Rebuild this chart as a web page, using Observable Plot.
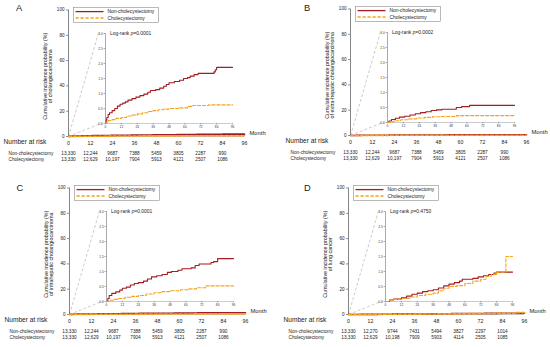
<!DOCTYPE html>
<html><head><meta charset="utf-8">
<script src="https://cdn.jsdelivr.net/npm/d3@7"></script>
<script src="https://cdn.jsdelivr.net/npm/@observablehq/plot@0.6"></script>
<style>
body{margin:0;background:#fff;font-family:"Liberation Sans",Arial,sans-serif;color:#222}
#root{position:relative;width:550px;height:347px;overflow:hidden;background:#fff}
.panel{position:absolute;width:275px;height:175px}
.panel svg{position:absolute;overflow:visible}
.letter{position:absolute;font-size:9.3px;line-height:1}
.logrank{position:absolute;font-size:4.9px;line-height:5px;white-space:nowrap}
</style></head><body><div id="root"></div>
<script>
// ---------- data ----------
const months = [0,12,24,36,48,60,72,84,96];
const riskMonths = [0,12,24,36,48,60,72,84];
const yTicksMain = [0,20,40,60,80,100];
const yTicksInset = [0,0.5,1,1.5,2,2.5,3];
const groups = ["Non-cholecystectomy","Cholecystectomy"];
const letters = ["A","B","C","D"];
const outcomes = ["of cholangiocarcinoma","of extra-hepatic cholangiocarcinoma","of intrahepatic cholangiocarcinoma","of lung cancer"];
const pvals = ["0.0001","0.0002","0.0001","0.4750"];

const aNonM = [0,0.5,1,2,3,5,7,9,11,13,15,17,20,23,26,29,32,34,38,41,44,46,48,52,56,59,62,64,67,70,82,83,84,96];
const aNonV = [0,0.12,0.2,0.3,0.36,0.43,0.5,0.58,0.64,0.68,0.72,0.78,0.83,0.88,0.93,0.98,1.04,1.1,1.13,1.18,1.24,1.3,1.36,1.4,1.44,1.5,1.53,1.58,1.63,1.67,1.72,1.79,1.87,1.87];
const aChoM = [0,1,2,5,8,12,16,20,24,28,32,36,40,44,48,55,62,66,78,96];
const aChoV = [0,0.05,0.1,0.13,0.17,0.2,0.25,0.28,0.32,0.36,0.4,0.43,0.46,0.48,0.5,0.52,0.57,0.6,0.62,0.62];
const bNonM = [0,1,3,6,9,13,17,21,25,29,33,37,41,52,56,62,96];
const bNonV = [0,0.05,0.1,0.14,0.18,0.21,0.25,0.29,0.33,0.36,0.4,0.42,0.44,0.5,0.53,0.57,0.57];
const bChoM = [0,2,5,10,16,22,28,34,40,52,96];
const bChoV = [0,0.03,0.06,0.09,0.12,0.15,0.17,0.19,0.2,0.23,0.23];
const cNonM = [0,1,2,4,7,10,12,15,18,21,24,28,31,34,38,42,46,49,54,57,64,67,70,79,81,84,96];
const cNonV = [0,0.1,0.2,0.27,0.32,0.38,0.44,0.48,0.55,0.6,0.63,0.68,0.75,0.82,0.86,0.9,0.97,1.0,1.04,1.09,1.12,1.2,1.25,1.3,1.33,1.43,1.43];
const cChoM = [0,2,5,9,14,19,24,30,36,42,48,56,62,68,75,96];
const cChoV = [0,0.04,0.07,0.1,0.14,0.17,0.2,0.25,0.29,0.33,0.36,0.39,0.42,0.46,0.52,0.52];
const dNonM = [0,3,6,12,16,20,24,28,32,36,40,44,48,52,56,58,66,70,74,78,82,84,96];
const dNonV = [0,0.05,0.08,0.12,0.18,0.24,0.28,0.33,0.36,0.39,0.45,0.52,0.58,0.63,0.68,0.74,0.77,0.82,0.86,0.9,0.95,0.98,0.98];
const dChoM = [0,3,6,12,18,24,30,36,40,44,48,54,60,66,72,76,80,84,91,96];
const dChoV = [0,0.04,0.07,0.1,0.15,0.2,0.24,0.28,0.36,0.44,0.5,0.53,0.6,0.68,0.74,0.84,0.9,0.98,1.5,1.5];

const riskABCNon = ["13,330","12,244","9687","7388","5459","3805","2287","990"];
const riskABCCho = ["13,330","12,629","10,197","7904","5913","4121","2507","1086"];
const riskDNon = ["13,330","12,270","9744","7431","5494","3827","2297","1014"];
const riskDCho = ["13,330","12,629","10,198","7909","5903","4114","2505","1085"];

// ---------- layout / style ----------
const FONT = '"Liberation Sans", Arial, sans-serif';
const RED = "#a11d22", ORANGE = "#f7a21c";
const panelPos = [[0,0],[282,-1],[1,178],[280,178]];
const letterPos = [[16,4],[304,4],[16.5,184],[304,184]];
const M = {w:275, h:150, ml:68, mr:31, mt:9.5, mb:14};
const I = {left:92.5, top:28.5, w:149, h:102, ml:12, mr:10, mt:4, mb:8};

const seriesList = [
  [[aNonM,aNonV],[aChoM,aChoV],riskABCNon,riskABCCho],
  [[bNonM,bNonV],[bChoM,bChoV],riskABCNon,riskABCCho],
  [[cNonM,cNonV],[cChoM,cChoV],riskABCNon,riskABCCho],
  [[dNonM,dNonV],[dChoM,dChoV],riskDNon,riskDCho]
];
const toRows = ([ms,vs]) => ms.map((m,i)=>({m, v: vs[i]}));

const root = document.getElementById("root");

seriesList.forEach((s, k) => {
  const non = toRows(s[0]), cho = toRows(s[1]);
  const panel = document.createElement("div");
  panel.className = "panel";
  panel.style.left = panelPos[k][0] + "px";
  panel.style.top = panelPos[k][1] + "px";
  root.appendChild(panel);

  const lines = (sw) => [
    Plot.line(non, {x:"m", y:"v", curve:"step-after", stroke:RED, strokeWidth:sw}),
    Plot.line(cho, {x:"m", y:"v", curve:"step-after", stroke:ORANGE, strokeWidth:sw, strokeDasharray:"3.2,1.8"})
  ];

  // inset
  const inset = Plot.plot({
    width:I.w, height:I.h, marginLeft:I.ml, marginRight:I.mr, marginTop:I.mt, marginBottom:I.mb,
    style:{fontFamily:FONT, fontSize:"3.2px", background:"transparent", color:"#333", overflow:"visible"},
    x:{domain:[0,96]}, y:{domain:[0,3]},
    marks:[
      Plot.ruleY([0], {stroke:"#9a9a9a", strokeWidth:0.5}),
      Plot.ruleX([0], {stroke:"#555", strokeWidth:0.5}),
      Plot.axisY({ticks:yTicksInset, tickFormat:".1f", tickSize:1.5, tickPadding:1.2, fontSize:3.2, label:null, strokeWidth:0.4}),
      Plot.axisX({ticks:months, tickSize:1.5, tickPadding:1.2, fontSize:3.2, label:null, strokeWidth:0.4}),
      ...lines(1.1)
    ]
  });
  const isx = inset.scale("x"), isy = inset.scale("y");
  const axisPx = I.left + isx.apply(0);
  const topPx = I.top + isy.apply(3);
  const botPx = I.top + isy.apply(0);

  const mx = Plot.scale({x:{domain:[0,96], range:[M.ml, M.w - M.mr]}});
  const my = Plot.scale({y:{domain:[0,100], range:[M.h - M.mb, M.mt]}});
  const connectors = [
    {x2: mx.invert(axisPx - 6.5), y2: my.invert(topPx)},
    {x2: mx.invert(axisPx - 3), y2: my.invert(botPx)}
  ];

  const main = Plot.plot({
    width:M.w, height:M.h, marginLeft:M.ml, marginRight:M.mr, marginTop:M.mt, marginBottom:M.mb,
    style:{fontFamily:FONT, fontSize:"5px", background:"transparent", color:"#222", overflow:"visible"},
    x:{domain:[0,96]}, y:{domain:[0,100]},
    marks:[
      Plot.link(connectors, {x1:0, y1:0, x2:"x2", y2:"y2", stroke:"#a8a8a8", strokeWidth:0.6, strokeDasharray:"3,2"}),
      Plot.ruleY([0], {stroke:"#999", strokeWidth:0.6}),
      Plot.ruleX([0], {stroke:"#333", strokeWidth:0.6}),
      Plot.axisY({ticks:yTicksMain, tickSize:2, tickPadding:2, fontSize:4.6, label:null, strokeWidth:0.5}),
      Plot.axisX({ticks:months, tickSize:0, tickPadding:5, fontSize:5.2, label:null}),
      ...lines(1.6),
      Plot.text(["Cumulative incidence probability (%)\n" + outcomes[k]], {frameAnchor:"left", rotate:-90, dx:-20.5, dy:3, fontSize:5.4, lineHeight:1, textAnchor:"middle"}),
      Plot.text(["Month"], {frameAnchor:"bottom-right", dx:5, dy:-1.5, textAnchor:"start", fontSize:5.8}),
      Plot.text(["Number at risk"], {frameAnchor:"bottom-left", dx:-65, dy:7.3, textAnchor:"start", fontSize:6.6})
    ]
  });
  main.style.left = "0px"; main.style.top = "0px";
  panel.appendChild(main);

  inset.style.left = I.left + "px"; inset.style.top = I.top + "px";
  panel.appendChild(inset);

  // number at risk table
  const tableRows = [];
  riskMonths.forEach((m,i) => {
    tableRows.push({m, g:groups[0], n:s[2][i]});
    tableRows.push({m, g:groups[1], n:s[3][i]});
  });
  const table = Plot.plot({
    width:M.w, height:20, marginLeft:M.ml, marginRight:M.mr, marginTop:0, marginBottom:0,
    style:{fontFamily:FONT, background:"transparent", color:"#222", overflow:"visible"},
    x:{domain:[0,96], axis:null},
    y:{type:"point", domain:groups, range:[6.3,12.8], padding:0, axis:null},
    marks:[
      Plot.text(tableRows, {x:"m", y:"g", text:"n", fontSize:4.7}),
      Plot.text(groups, {y:d=>d, text:d=>d, frameAnchor:"left", dx:-60, textAnchor:"start", fontSize:4.7})
    ]
  });
  table.style.left = "0px"; table.style.top = "146px";
  panel.appendChild(table);

  // legend
  const lg = d3.select(panel).append("svg")
    .attr("width", 86).attr("height", 16)
    .style("left", "72.5px").style("top", "6.5px");
  lg.append("rect").attr("x",0.5).attr("y",0.5).attr("width",85).attr("height",15)
    .attr("fill","#fff").attr("stroke","#8a8a8a").attr("stroke-width",0.6);
  [[RED,null,groups[0],4.6],[ORANGE,"3.2,1.8",groups[1],11]].forEach(([c,da,t,y]) => {
    lg.append("line").attr("x1",2.5).attr("x2",30.5).attr("y1",y).attr("y2",y)
      .attr("stroke",c).attr("stroke-width",1.3).attr("stroke-dasharray",da);
    lg.append("text").attr("x",34.5).attr("y",y).attr("dy","0.35em")
      .attr("font-family",FONT).attr("font-size",4.9).attr("fill","#222").text(t);
  });

  // log-rank annotation
  const lr = document.createElement("div");
  lr.className = "logrank";
  lr.style.left = "110px"; lr.style.top = "30.5px";
  lr.innerHTML = "Log-rank <i>p</i>=" + pvals[k];
  panel.appendChild(lr);

  // panel letter
  const L = document.createElement("div");
  L.className = "letter";
  L.style.left = letterPos[k][0] + "px"; L.style.top = letterPos[k][1] + "px";
  L.textContent = letters[k];
  root.appendChild(L);
});
</script></body></html>
